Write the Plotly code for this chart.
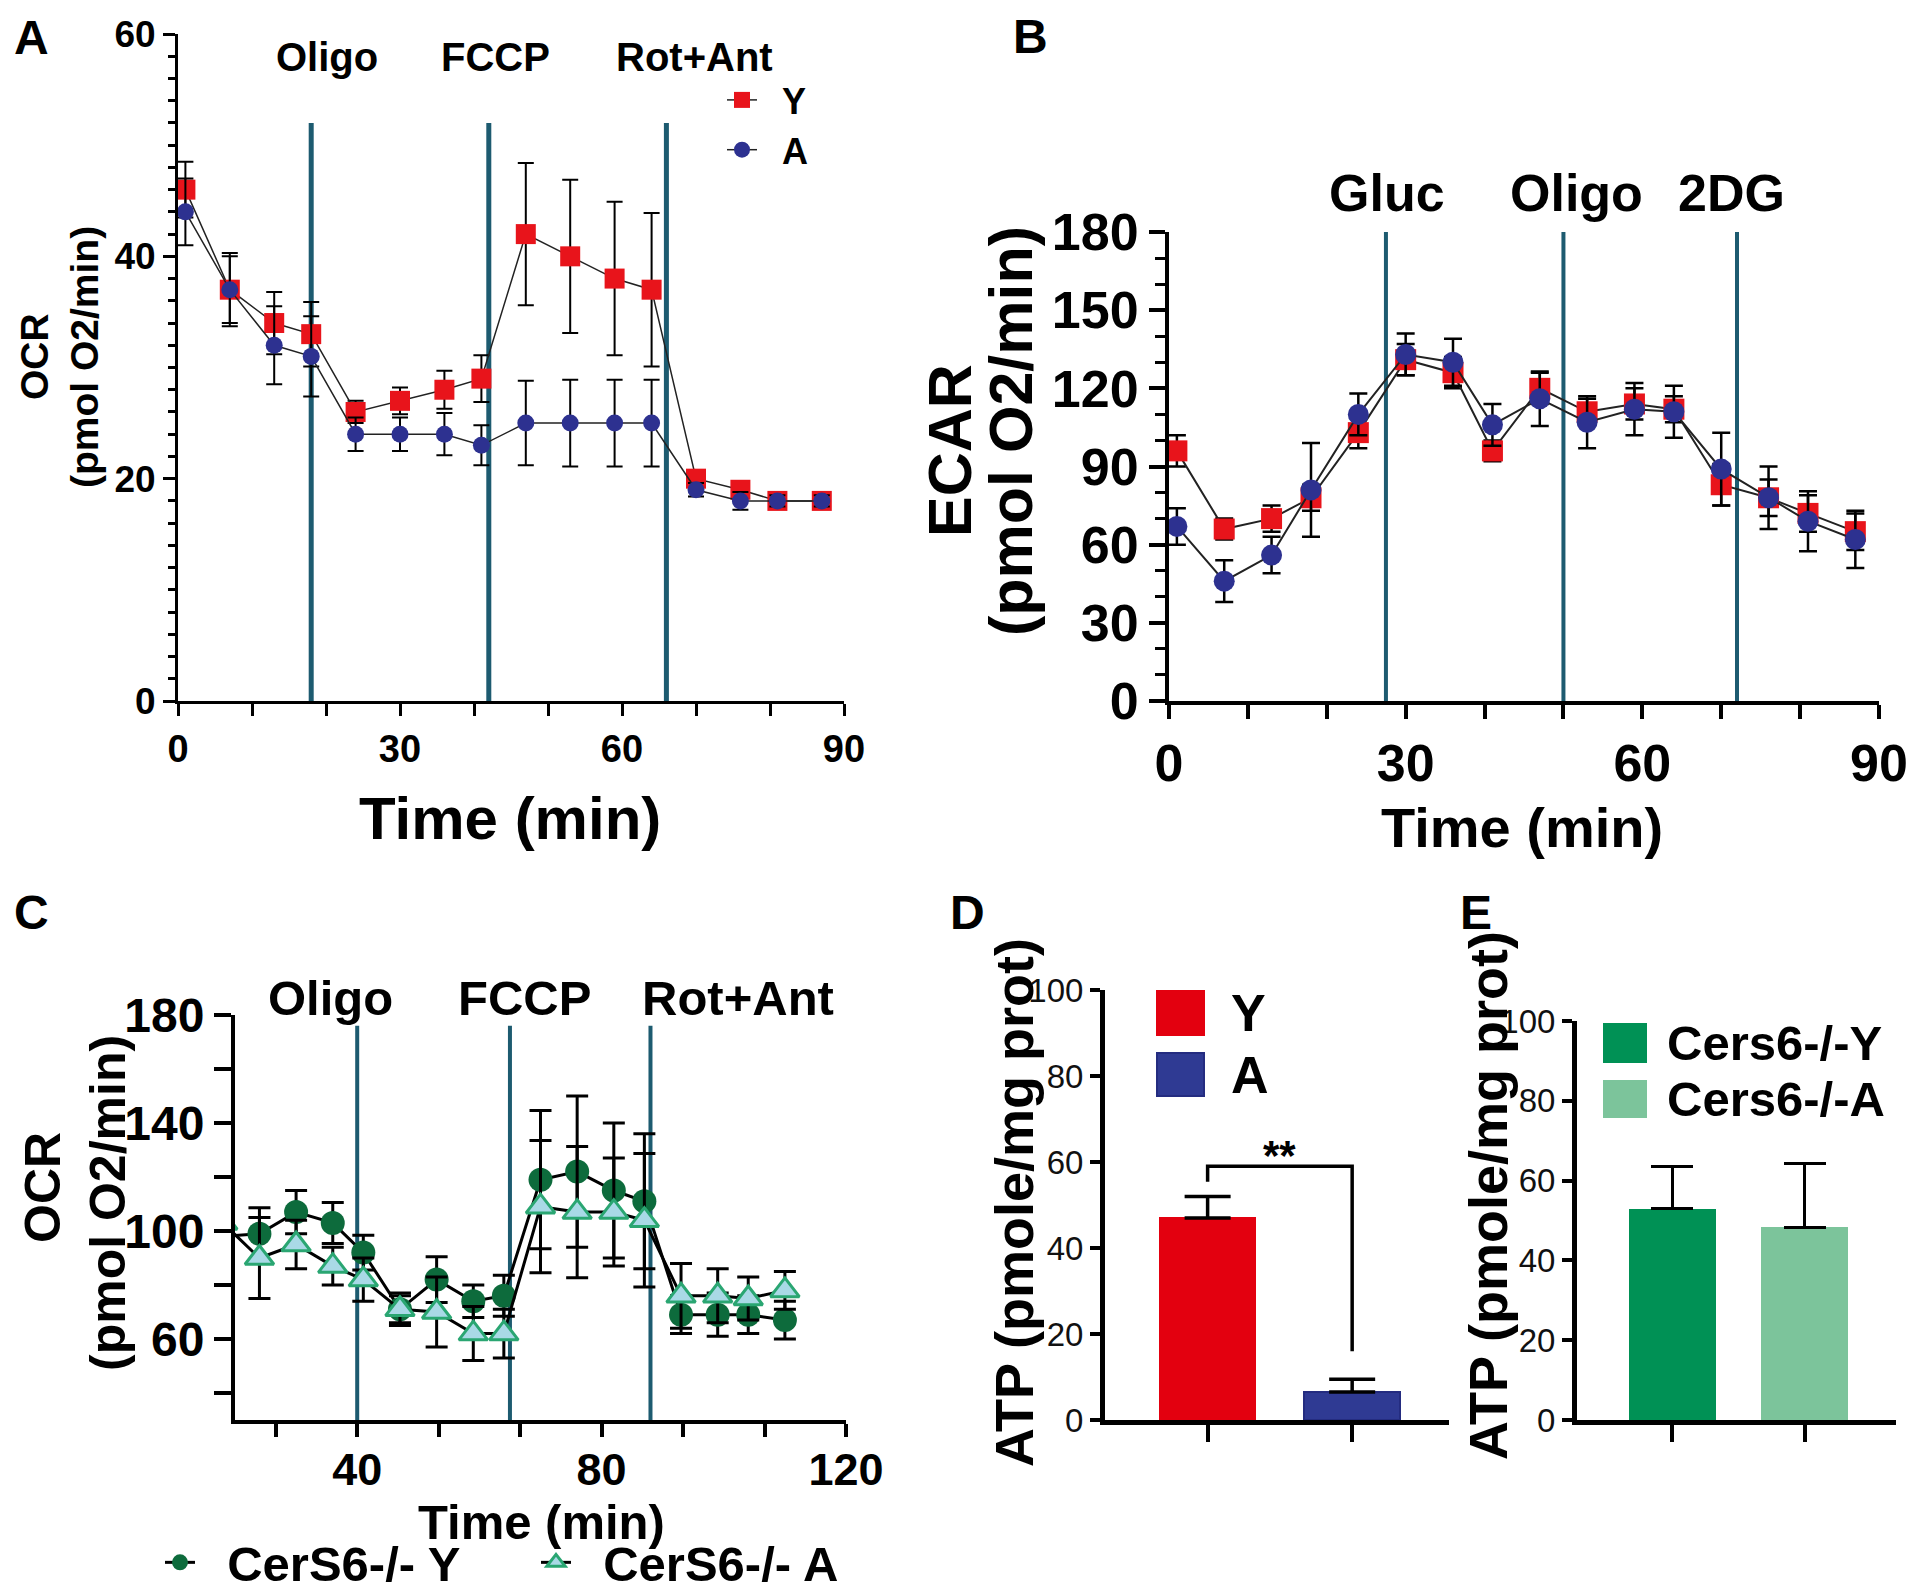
import plotly.graph_objects as go

FONT = "Liberation Sans, Arial, Helvetica, sans-serif"
W, H = 1920, 1595
OFF = 8  # page body margin of the browser


def px(x):
    return (x - OFF) / W


def py(y):
    return 1 - (y - OFF) / H


# ---------------- data ----------------
# Panel A : OCR, Y vs A
a_time = [1, 7, 13, 18, 24, 30, 36, 41, 47, 53, 59, 64, 70, 76, 81, 87]
a_y = [46, 37, 34, 33, 26, 27, 28, 29, 42, 40, 38, 37, 20, 19, 18, 18]
a_y_err = [2.5, 3.3, 2.8, 2.9, 1.0, 1.2, 1.7, 2.1, 6.4, 6.9, 6.9, 6.9, 0.6, 0.6, 0.5, 0.5]
a_a = [44, 37, 32, 31, 24, 24, 24, 23, 25, 25, 25, 25, 19, 18, 18, 18]
a_a_err = [3.0, 3.0, 3.5, 3.6, 1.5, 1.5, 1.9, 1.8, 3.8, 3.9, 3.9, 3.9, 0.6, 0.8, 0.5, 0.5]
a_inject = [18, 42, 66]
a_inject_labels = ["Oligo", "FCCP", "Rot+Ant"]

# Panel B : ECAR, Y vs A
b_time = [1, 7, 13, 18, 24, 30, 36, 41, 47, 53, 59, 64, 70, 76, 81, 87]
b_y = [96, 66, 70, 78, 103, 131, 126, 96, 120, 111, 114, 112, 83, 78, 72, 65]
b_y_err = [6, 4, 5, 5, 6, 6, 6, 4, 6, 5, 6, 5, 8, 7, 7, 7]
b_a = [67, 46, 56, 81, 110, 133, 130, 106, 116, 107, 112, 111, 89, 78, 69, 62]
b_a_err = [7, 8, 7, 18, 8, 8, 9, 8, 10.5, 10, 10, 10, 14, 12, 11.5, 11]
b_inject = [27.5, 50, 72]
b_inject_labels = ["Gluc", "Oligo", "2DG"]

# Panel C : OCR, CerS6-/- Y vs A
c_time = [18, 24, 30, 36, 41, 47, 53, 59, 64, 70, 76, 82, 87, 93, 99, 104, 110]
c_y = [98, 99, 107, 103, 92, 71, 82, 74, 76, 119, 122, 115, 111, 69, 69, 69, 67]
c_y_err = [8, 9.6, 8, 7.6, 6.4, 6, 8.5, 6, 7.6, 25.6, 28, 25, 25, 7, 8, 7, 7]
c_a = [103, 90, 95, 87, 82, 71, 70, 62, 62, 109, 107, 107, 104, 76, 76, 75, 78]
c_a_err = [10, 15, 9, 7, 8, 5, 13, 10, 9, 24.5, 24.3, 20, 24.7, 12, 10, 8, 7]
c_inject = [40, 65, 88]
c_inject_labels = ["Oligo", "FCCP", "Rot+Ant"]

# Panel D : ATP, Y vs A
d_groups = ["Y", "A"]
d_vals = [47, 6.5]
d_err = [5, 3]
d_sig = "**"
d_bracket = [55.4, 59, 59, 16]

# Panel E : ATP, Cers6-/- Y vs A
e_groups = ["Cers6-/-Y", "Cers6-/-A"]
e_vals = [53, 48.3]
e_err = [10.5, 16]

# ---------------- styling ----------------
RED = "#e8141b"
NAVY = "#2d3190"
DGREEN = "#0d6b3c"
TRI_FILL = "#a9d9e6"
TRI_LINE = "#2aa672"
TEAL = "#1d5b70"
D_COLORS = ["#e3000f", "#2f3a93"]
D_LINES = ["#e3000f", "#242c80"]
E_COLORS = ["#009155", "#7cc49b"]
NB = "\u00a0"

fig = go.Figure()


def err(arr, thick, width, minus=None):
    d = dict(type="data", array=arr, visible=True, color="black",
             thickness=thick, width=width)
    if minus is not None:
        d["symmetric"] = False
        d["arrayminus"] = minus
    return d


# Panel A traces
fig.add_trace(go.Scatter(
    x=a_time, y=a_y, name=NB * 2 + "Y", mode="lines+markers", xaxis="x", yaxis="y",
    line=dict(color="#222", width=1.5),
    marker=dict(symbol="square", size=20, color=RED),
    error_y=err(a_y_err, 2, 8), legend="legend", cliponaxis=False))
fig.add_trace(go.Scatter(
    x=a_time, y=a_a, name=NB * 2 + "A", mode="lines+markers", xaxis="x", yaxis="y",
    line=dict(color="#222", width=1.5),
    marker=dict(symbol="circle", size=17, color=NAVY),
    error_y=err(a_a_err, 2, 8), legend="legend", cliponaxis=False))

# Panel B traces
fig.add_trace(go.Scatter(
    x=b_time, y=b_y, name="Y", mode="lines+markers", xaxis="x2", yaxis="y2",
    line=dict(color="#222", width=2),
    marker=dict(symbol="square", size=21, color=RED),
    error_y=err(b_y_err, 2.5, 9), showlegend=False, cliponaxis=False))
fig.add_trace(go.Scatter(
    x=b_time, y=b_a, name="A", mode="lines+markers", xaxis="x2", yaxis="y2",
    line=dict(color="#222", width=2),
    marker=dict(symbol="circle", size=21, color=NAVY),
    error_y=err(b_a_err, 2.5, 9), showlegend=False, cliponaxis=False))

# Panel C traces
fig.add_trace(go.Scatter(
    x=c_time, y=c_y, name=NB * 2 + "CerS6-/- Y", mode="lines+markers", xaxis="x3", yaxis="y3",
    line=dict(color="black", width=3),
    marker=dict(symbol="circle", size=24, color=DGREEN),
    error_y=err(c_y_err, 3, 11), legend="legend2"))
fig.add_trace(go.Scatter(
    x=c_time, y=c_a, name=NB * 2 + "CerS6-/- A", mode="lines+markers", xaxis="x3", yaxis="y3",
    line=dict(color="black", width=3),
    marker=dict(symbol="triangle-up", size=25, color=TRI_FILL,
                line=dict(color=TRI_LINE, width=3)),
    error_y=err(c_a_err, 3, 11), legend="legend2"))

# Panel D bars
fig.add_trace(go.Bar(
    x=d_groups, y=d_vals, xaxis="x4", yaxis="y4", width=0.66,
    marker=dict(color=D_COLORS, line=dict(color=D_LINES, width=2)),
    error_y=err(d_err, 3.5, 23, minus=[0, 0]), showlegend=False))
# significance bracket
fig.add_trace(go.Scatter(
    x=[d_groups[0], d_groups[0], d_groups[1], d_groups[1]], y=d_bracket,
    mode="lines", line=dict(color="black", width=3.5), xaxis="x4", yaxis="y4",
    showlegend=False, hoverinfo="skip"))

# Panel E bars
fig.add_trace(go.Bar(
    x=e_groups, y=e_vals, xaxis="x5", yaxis="y5", width=0.66,
    marker=dict(color=E_COLORS, line=dict(width=0)),
    error_y=err(e_err, 3.5, 21, minus=[0, 0]), showlegend=False))


# ---------------- axes ----------------
def axis(domain, rng, anchor, lw, **kw):
    d = dict(domain=domain, range=rng, anchor=anchor, showline=True, linewidth=lw,
             linecolor="black", showgrid=False, zeroline=False, ticks="outside",
             tickcolor="black", automargin=False)
    d.update(kw)
    return d


bold = lambda s: dict(family=FONT, size=s, color="black", weight="bold")
reg = lambda s: dict(family=FONT, size=s, color="#111")

fig.update_layout(
    xaxis=axis([px(178), px(844)], [0, 90], "y", 3, dtick=30, ticklen=12, tickwidth=3,
               tickfont=bold(38), minor=dict(dtick=10, ticklen=12, tickwidth=3, ticks="outside")),
    yaxis=axis([py(701), py(34)], [0, 60], "x", 3, dtick=20, ticklen=12, tickwidth=3,
               tickfont=bold(37), minor=dict(dtick=2, ticklen=7, tickwidth=2.5, ticks="outside")),
    xaxis2=axis([px(1169), px(1879)], [0, 90], "y2", 4, dtick=30, ticklen=14, tickwidth=4,
                tickfont=bold(52), minor=dict(dtick=10, ticklen=14, tickwidth=4, ticks="outside")),
    yaxis2=axis([py(701), py(232)], [0, 180], "x2", 4, dtick=30, ticklen=16, tickwidth=4,
                tickfont=bold(52), minor=dict(dtick=10, ticklen=10, tickwidth=3, ticks="outside")),
    xaxis3=axis([px(235), px(846)], [20, 120], "y3", 4, tickvals=[40, 80, 120], ticklen=13,
                tickwidth=4, tickfont=bold(45), ticklabelstandoff=-6,
                minor=dict(tick0=0, dtick=40 / 3, ticklen=13, tickwidth=4, ticks="outside")),
    yaxis3=axis([py(1420), py(1015)], [30, 180], "x3", 4, tickvals=[60, 100, 140, 180],
                ticklen=17, tickwidth=4, tickfont=bold(48),
                minor=dict(tick0=0, dtick=20, ticklen=17, tickwidth=4, ticks="outside")),
    xaxis4=axis([px(1105), px(1449)], [-0.71, 1.67], "y4", 5, ticklen=17, tickwidth=4,
                showticklabels=False, type="category"),
    yaxis4=axis([py(1420), py(990)], [0, 100], "x4", 5, dtick=20, ticklen=10, tickwidth=4,
                tickfont=reg(33)),
    xaxis5=axis([px(1577), px(1896)], [-0.72, 1.69], "y5", 5, ticklen=17, tickwidth=4,
                showticklabels=False, type="category"),
    yaxis5=axis([py(1420), py(1021)], [0, 100], "x5", 5, dtick=20, ticklen=10, tickwidth=4,
                tickfont=reg(33)),
)

# ---------------- legends ----------------
fig.update_layout(
    legend=dict(x=px(722), y=py(70), xanchor="left", yanchor="top",
                font=bold(36), bgcolor="rgba(0,0,0,0)", tracegroupgap=0,
                itemwidth=30),
    legend2=dict(orientation="h", x=px(160), y=py(1601), xanchor="left", yanchor="bottom",
                 font=bold(49), bgcolor="rgba(0,0,0,0)", entrywidth=331,
                 entrywidthmode="pixels"),
)

# ---------------- shapes ----------------
shapes = []
for xv in a_inject:
    shapes.append(dict(type="line", xref="x", yref="y", x0=xv, x1=xv, y0=0, y1=52,
                       line=dict(color=TEAL, width=5), layer="below"))
for xv in b_inject:
    shapes.append(dict(type="line", xref="x2", yref="y2", x0=xv, x1=xv, y0=0, y1=180,
                       line=dict(color=TEAL, width=4), layer="below"))
for xv in c_inject:
    shapes.append(dict(type="line", xref="x3", yref="y3", x0=xv, x1=xv, y0=30, y1=176,
                       line=dict(color=TEAL, width=4), layer="below"))

# D / E legend swatches
d_leg_rows = [(991, 1035), (1053, 1096)]
for (y0, y1), c, lc in zip(d_leg_rows, D_COLORS, D_LINES):
    shapes.append(dict(type="rect", xref="paper", yref="paper", x0=px(1157), x1=px(1204),
                       y0=py(y1), y1=py(y0), fillcolor=c, line=dict(color=lc, width=2)))
e_leg_rows = [(1023, 1063), (1080, 1118)]
for (y0, y1), c in zip(e_leg_rows, E_COLORS):
    shapes.append(dict(type="rect", xref="paper", yref="paper", x0=px(1603), x1=px(1647),
                       y0=py(y1), y1=py(y0), fillcolor=c, line=dict(width=0)))
fig.update_layout(shapes=shapes)

# ---------------- annotations ----------------
ann = []


def text(x, y, s, font, xref="paper", yref="paper", angle=0, xanchor="center", yanchor="middle"):
    ann.append(dict(x=x, y=y, xref=xref, yref=yref, text=s, showarrow=False, font=font,
                    textangle=angle, xanchor=xanchor, yanchor=yanchor))


# panel letters
for s, (x, y) in zip("ABCDE", [(31, 38), (1030, 36), (31, 912), (967, 912), (1476, 912)]):
    text(px(x), py(y), s, bold(48))

# A
for xv, lab in zip([20.1, 42.9, 69.8], a_inject_labels):
    text(xv, py(57), lab, bold(40), xref="x")
text(px(34), py(357), "OCR", bold(39), angle=-90)
text(px(84), py(357), "(pmol O2/min)", bold(39), angle=-90)
text(px(510), py(818), "Time (min)", bold(60))

# B
for xv, lab in zip([27.6, 51.6, 71.3], b_inject_labels):
    text(xv, py(193), lab, bold(52), xref="x2")
text(px(950), py(451), "ECAR", bold(61), angle=-90)
text(px(1011), py(431), "(pmol O2/min)", bold(61), angle=-90)
text(px(1522), py(827), "Time (min)", bold(56))

# C
for xv, lab in zip([35.6, 67.3, 102.4], c_inject_labels):
    text(xv, py(998), lab, bold(49), xref="x3")
text(px(43), py(1188), "OCR", bold(50), angle=-90)
text(px(108), py(1203), "(pmol O2/min)", bold(50), angle=-90)
text(px(541), py(1522), "Time (min)", bold(49))

# D
text(px(1014), py(1203), "ATP (pmole/mg prot)", bold(54), angle=-90)
text(0.5, 61.5, d_sig, bold(42), xref="x4", yref="y4", yanchor="middle")
for (y0, y1), g in zip(d_leg_rows, d_groups):
    text(px(1229), py((y0 + y1) / 2), g, bold(52), xanchor="left")

# E
text(px(1488), py(1196), "ATP (pmole/mg prot)", bold(54), angle=-90)
for (y0, y1), g in zip(e_leg_rows, e_groups):
    text(px(1665), py((y0 + y1) / 2), g, bold(49), xanchor="left")

fig.update_layout(
    annotations=ann,
    width=W, height=H,
    margin=dict(l=0, r=0, t=0, b=0, autoexpand=False),
    paper_bgcolor="white", plot_bgcolor="white",
    font=dict(family=FONT, color="black"),
    bargap=0,
)

fig.write_html("out.html")
